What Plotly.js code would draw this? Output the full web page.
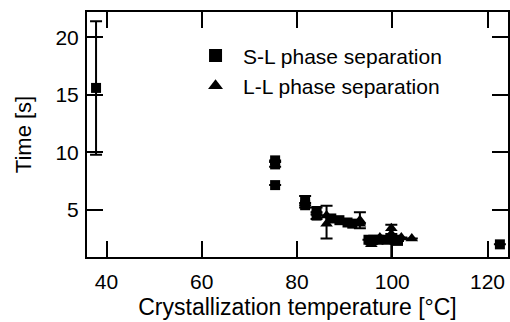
<!DOCTYPE html>
<html>
<head>
<meta charset="utf-8">
<script src="https://cdn.plot.ly/plotly-3.0.1.min.js"></script>
<style>html,body{margin:0;padding:0;background:#fff;}#chart{width:510px;height:322px;}</style>
</head>
<body>
<div id="chart"></div>
<script>
// S-L phase separation (squares)
const slX = [37.8, 75.4, 75.4, 75.4, 81.7, 81.7, 84.1, 84.1, 87.2, 88.9, 90.6, 91.6, 95.0, 96.0, 97.1, 98.8, 100.5, 101.2, 122.6];
const slY = [15.6, 7.15, 8.95, 9.3, 5.4, 5.8, 4.5, 4.9, 4.25, 4.1, 3.9, 3.8, 2.4, 2.4, 2.4, 2.4, 2.4, 2.3, 2.0];
const slErr = [5.8, 0, 0.2, 0, 0.2, 0.4, 0.3, 0.3, 0, 0, 0, 0, 0, 0, 0, 0, 0, 0, 0];

// L-L phase separation (triangles)
const llX = [86.2, 86.2, 93.2, 93.2, 95.6, 97.4, 99.8, 99.8, 101.9, 104.1];
const llY = [3.8, 4.5, 4.1, 3.8, 2.0, 2.6, 3.4, 2.9, 2.6, 2.5];
const llErrPlus = [1.55, 0, 0.7, 0, 0, 0, 0.3, 0, 0, 0];
const llErrMinus = [1.3, 0, 0.7, 0, 0, 0, 2.6, 0, 0, 0];

const names = ['S-L phase separation', 'L-L phase separation'];
const xTicks = [40, 60, 80, 100, 120];
const yTicks = [5, 10, 15, 20];

const font = {family: 'Arial, "Liberation Sans", sans-serif', color: '#000'};
const errStyle = {color: '#000', thickness: 2, width: 6};

const traces = [
  {x: slX, y: slY, type: 'scatter', mode: 'markers', showlegend: false,
   marker: {symbol: 'square', size: 10, color: '#000'},
   error_y: Object.assign({type: 'data', array: slErr, visible: true}, errStyle)},
  {x: llX, y: llY, type: 'scatter', mode: 'markers', showlegend: false,
   marker: {symbol: 'triangle-up', size: 11, color: '#000'},
   error_y: Object.assign({type: 'data', symmetric: false, array: llErrPlus, arrayminus: llErrMinus, visible: true}, errStyle)},
  {x: [null], y: [null], type: 'scatter', mode: 'markers', name: names[0],
   marker: {symbol: 'square', size: 13, color: '#000'}},
  {x: [null], y: [null], type: 'scatter', mode: 'markers', name: names[1],
   marker: {symbol: 'triangle-up', size: 13, color: '#000'}}
];

const axisCommon = {
  showline: true, linecolor: '#000', linewidth: 2, mirror: 'allticks',
  ticks: 'inside', ticklen: 16, tickwidth: 2, tickcolor: '#000',
  showgrid: false, zeroline: false, tickfont: Object.assign({size: 21}, font)
};

const layout = {
  width: 510, height: 322,
  margin: {l: 87, r: 2, t: 12, b: 65},
  paper_bgcolor: '#fff', plot_bgcolor: '#fff',
  font: font,
  xaxis: Object.assign({}, axisCommon, {
    range: [35.9, 124.3], tickvals: xTicks, ticktext: xTicks.map(String),
    ticklabelstandoff: 5,
    title: {text: 'Crystallization temperature [°C]', font: Object.assign({size: 23}, font), standoff: 7}
  }),
  yaxis: Object.assign({}, axisCommon, {
    range: [0.9, 22.2], tickvals: yTicks, ticktext: yTicks.map(String),
    ticklabelstandoff: 2,
    title: {text: 'Time [s]', font: Object.assign({size: 22}, font), standoff: 18}
  }),
  showlegend: true,
  legend: {x: 0.24, y: 0.905, xanchor: 'left', yanchor: 'top', bgcolor: 'rgba(0,0,0,0)',
           font: Object.assign({size: 21}, font), itemwidth: 45, tracegroupgap: 0}
};

Plotly.newPlot('chart', traces, layout, {staticPlot: true, displayModeBar: false});
</script>
</body>
</html>
